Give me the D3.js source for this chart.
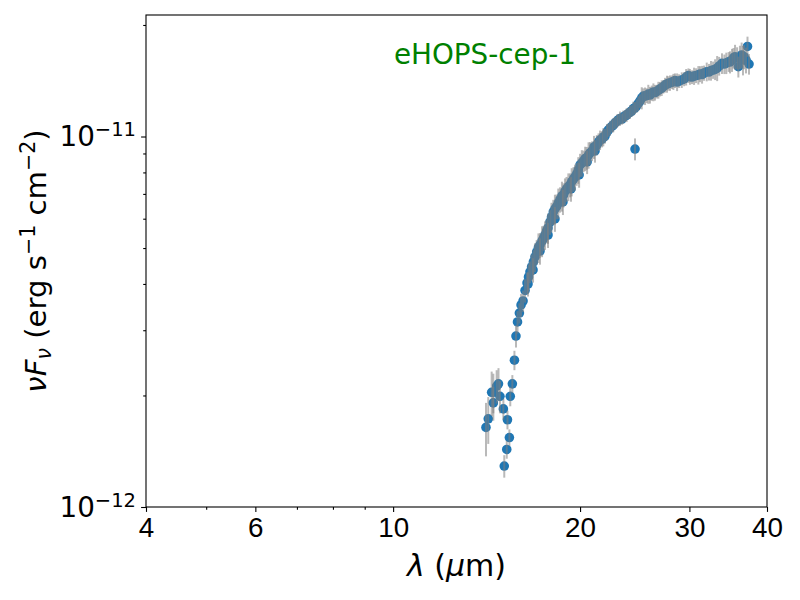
<!DOCTYPE html>
<html>
<head>
<meta charset="utf-8">
<script src="https://cdn.jsdelivr.net/npm/d3@7"></script>
<style>
  body { margin: 0; background: #fff; }
  svg { font-family: "DejaVu Sans", sans-serif; }
</style>
</head>
<body>
<div id="chart"></div>
<script>
// spectrum: wavelength (micron), nuFnu and its error (in units of 1e-12 erg s-1 cm-2)
var wavelength = [14.11, 14.23, 14.41, 14.50, 14.50, 14.68, 14.78, 14.86, 15.05, 15.10, 15.24, 15.28, 15.39, 15.44, 15.56, 15.68,
	15.77, 15.86, 15.97, 16.07, 16.19, 16.31, 16.43, 16.52, 16.61, 16.71,
	16.82, 16.92, 17.03, 17.14, 17.24, 17.37, 17.47, 17.56, 17.67, 17.76,
	17.89, 17.99, 18.11, 18.22, 18.34, 18.45, 18.57, 18.70, 18.81, 18.91,
	19.02, 19.15, 19.27, 19.39, 19.52, 19.63, 19.75, 19.87, 20.00, 20.13,
	20.26, 20.38, 20.50, 20.64, 20.75, 20.91, 21.06, 21.28, 21.42, 21.54,
	21.70, 21.80, 21.94, 22.10, 22.20, 22.35, 22.52, 22.62, 22.77, 22.94,
	23.05, 23.19, 23.36, 23.48, 23.63, 23.77, 23.92, 24.07, 24.22, 24.37,
	24.52, 24.52, 24.67, 24.82, 24.98, 25.14, 25.29, 25.45, 25.61, 25.76,
	25.92, 26.09, 26.25, 26.41, 26.58, 26.74, 26.90, 27.07, 27.24, 27.41,
	27.61, 27.75, 27.92, 28.13, 28.27, 28.44, 28.66, 28.87, 29.16, 29.42,
	29.64, 29.89, 30.06, 30.29, 30.52, 30.75, 31.01, 31.20, 31.44, 31.67,
	31.99, 32.26, 32.50, 32.75, 33.00, 33.25, 33.50, 33.85, 34.15, 34.40,
	34.70, 34.87, 35.13, 35.33, 35.53, 35.80, 35.97, 36.18, 36.41, 36.59,
	36.73, 37.00, 37.21, 37.42,
	16.49, 16.80, 17.24, 17.76, 18.22, 18.77, 19.34, 19.93, 20.53, 21.14]

var flux = [1.64, 1.73, 2.04, 1.91, 2.04, 2.12, 2.15, 1.99, 1.84, 1.29, 1.43, 1.72, 1.54, 1.99, 2.15, 2.49,
	2.894, 3.158, 3.338, 3.510, 3.598, 3.841, 4.024, 4.177, 4.309, 4.445,
	4.585, 4.730, 4.879, 5.017, 5.096, 5.224, 5.322, 5.422, 5.559, 5.663,
	5.878, 6.064, 6.256, 6.374, 6.474, 6.616, 6.762, 6.911, 6.954, 7.107,
	7.218, 7.322, 7.400, 7.551, 7.679, 7.775, 7.921, 8.124, 8.380, 8.485,
	8.591, 8.724, 8.751, 8.916, 9.027, 9.140, 9.369, 9.486, 9.665, 9.785,
	9.846, 9.969, 10.03, 10.28, 10.41, 10.54, 10.67, 10.74, 10.88, 11.01,
	11.08, 11.18, 11.15, 11.29, 11.36, 11.43, 11.54, 11.64, 11.72, 11.90,
	11.94, 9.252, 12.09, 12.28, 12.47, 12.71, 12.86, 12.86, 12.90, 13.02,
	12.94, 13.10, 13.18, 13.14, 13.23, 13.35, 13.43, 13.52, 13.63, 13.77,
	13.86, 13.92, 13.95, 14.03, 14.06, 14.16, 14.03, 14.12, 14.21, 14.30,
	14.47, 14.61, 14.50, 14.47, 14.56, 14.61, 14.65, 14.75, 14.70, 14.84,
	14.96, 14.93, 15.07, 15.12, 15.18, 15.30, 15.50, 15.76, 15.69, 15.79,
	15.92, 15.89, 16.09, 16.29, 16.42, 16.29, 15.43, 16.39, 16.60, 16.09,
	16.42, 16.09, 17.50, 15.69,
	3.999, 4.363, 4.909, 5.422, 5.990, 6.658, 7.218, 7.874, 8.537, 9.140]

var fluxErr = [0.27, 0.25, 0.28, 0.20, 0.25, 0.22, 0.22, 0.20, 0.12, 0.09, 0.08, 0.10, 0.08, 0.12, 0.12, 0.15,
	0.20, 0.22, 0.21, 0.25, 0.24, 0.28, 0.27, 0.34, 0.29, 0.36,
	0.35, 0.42, 0.38, 0.46, 0.39, 0.50, 0.42, 0.48, 0.41, 0.53,
	0.45, 0.56, 0.49, 0.59, 0.50, 0.62, 0.53, 0.64, 0.52, 0.60,
	0.56, 0.63, 0.55, 0.66, 0.59, 0.62, 0.56, 0.67, 0.60, 0.70,
	0.57, 0.66, 0.62, 0.73, 0.63, 0.56, 0.67, 0.60, 0.53, 0.59,
	0.50, 0.56, 0.46, 0.53, 0.43, 0.49, 0.42, 0.48, 0.41, 0.46,
	0.42, 0.50, 0.39, 0.46, 0.42, 0.49, 0.41, 0.48, 0.43, 0.52,
	0.45, 0.63, 0.50, 0.56, 0.53, 0.87, 0.63, 0.70, 0.59, 0.77,
	0.67, 0.62, 0.73, 0.64, 0.56, 0.70, 0.60, 0.66, 0.57, 0.63,
	0.73, 0.62, 0.67, 0.59, 0.70, 0.64, 0.77, 0.60, 0.69, 0.63,
	0.74, 0.66, 0.71, 0.62, 0.78, 0.67, 0.84, 0.73, 0.81, 0.70,
	0.87, 0.77, 0.92, 0.81, 0.98, 1.19, 0.90, 1.01, 0.95, 1.05,
	0.98, 1.09, 1.15, 1.04, 1.26, 1.12, 1.00, 1.19, 1.33, 1.47,
	1.23, 1.29, 1.10, 1.00,
	0.30, 0.33, 0.40, 0.42, 0.46, 0.52, 0.55, 0.60, 0.62, 0.64]

var fluxUnit = 1e-12
var xMajor = [4, 6, 10, 20, 30, 40]
var xMinor = [5, 7, 8, 9]
var yMajor = [1e-12, 1e-11]
var yMinor = [2e-12, 3e-12, 4e-12, 5e-12, 6e-12, 7e-12, 8e-12, 9e-12, 2e-11]
var yExponents = ["\u221212", "\u221211"]
var sourceName = "eHOPS-cep-1"

function createChart(width, height){
	var left = 146, right = 767, top = 15, bottom = 507
	var fs = 27.8

	var svg = d3.select("#chart")
		.append("svg")
		.attr("width", width)
		.attr("height", height)

	var x = d3.scaleLog().domain([4, 40]).range([left, right])
	var y = d3.scaleLog().domain([1e-12, 2.128e-11]).range([bottom, top])

	var data = wavelength.map(function(w, i){
		return {w: w, f: flux[i] * fluxUnit, e: fluxErr[i] * fluxUnit}
	})

	// axes: majors, then minors without labels
	svg.append("g")
		.attr("transform", "translate(0," + bottom + ")")
		.call(d3.axisBottom(x).tickValues(xMajor).tickFormat(d3.format("d")).tickSize(4.9).tickPadding(5.5))
		.call(function(g){ g.select(".domain").remove() })
		.selectAll("text").style("font-size", fs + "px").attr("fill", "#000")
	svg.append("g")
		.attr("transform", "translate(0," + bottom + ")")
		.call(d3.axisBottom(x).tickValues(xMinor).tickFormat("").tickSize(2.8))
		.call(function(g){ g.select(".domain").remove() })

	svg.append("g")
		.attr("transform", "translate(" + left + ",0)")
		.call(d3.axisLeft(y).tickValues(yMajor).tickFormat("").tickSize(4.9))
		.call(function(g){ g.select(".domain").remove() })
	svg.append("g")
		.attr("transform", "translate(" + left + ",0)")
		.call(d3.axisLeft(y).tickValues(yMinor).tickFormat("").tickSize(2.8))
		.call(function(g){ g.select(".domain").remove() })
	svg.selectAll(".tick line").attr("stroke", "#000").attr("stroke-width", 1.1)

	var yLabels = svg.append("g").selectAll("text")
		.data(yMajor)
		.enter().append("text")
		.attr("x", left - 10)
		.attr("y", function(d){ return y(d) + 9.5 })
		.attr("text-anchor", "end")
		.style("font-size", fs + "px")
	yLabels.append("tspan").text("10")
	yLabels.append("tspan")
		.attr("dy", -10)
		.style("font-size", "19.5px")
		.text(function(d, i){ return yExponents[i] })

	// points, then error bars over them
	svg.append("g").selectAll(".datapoint")
		.data(data)
		.enter().append("circle")
		.attr("class", "datapoint")
		.attr("cx", function(d){ return x(d.w) })
		.attr("cy", function(d){ return y(d.f) })
		.attr("r", 4.8)
		.attr("fill", "#1f77b4")

	svg.append("g").selectAll(".errbar")
		.data(data)
		.enter().append("line")
		.attr("class", "errbar")
		.attr("x1", function(d){ return x(d.w) })
		.attr("x2", function(d){ return x(d.w) })
		.attr("y1", function(d){ return y(d.f - d.e) })
		.attr("y2", function(d){ return y(d.f + d.e) })
		.attr("stroke", "#808080")
		.attr("stroke-opacity", 0.55)
		.attr("stroke-width", 2)

	svg.append("rect")
		.attr("x", left).attr("y", top)
		.attr("width", right - left).attr("height", bottom - top)
		.attr("fill", "none").attr("stroke", "#000").attr("stroke-width", 1.1)

	svg.append("text")
		.attr("x", 485).attr("y", 64)
		.attr("text-anchor", "middle")
		.attr("fill", "green")
		.style("font-size", fs + "px")
		.text(sourceName)

	svg.append("text")
		.attr("x", (left + right) / 2).attr("y", 576)
		.attr("text-anchor", "middle")
		.style("font-size", "30px")
		.call(function(t){
			t.append("tspan").style("font-style", "italic").text("\u03bb")
			t.append("tspan").text(" (")
			t.append("tspan").style("font-style", "italic").text("\u03bc")
			t.append("tspan").text("m)")
		})

	svg.append("text")
		.attr("transform", "translate(46," + (top + bottom) / 2 + ") rotate(-90)")
		.attr("text-anchor", "middle")
		.style("font-size", "29.2px")
		.call(function(t){
			t.append("tspan").style("font-style", "italic").text("\u03bdF")
			t.append("tspan").attr("dy", 5).style("font-style", "italic").style("font-size", "20.5px").text("\u03bd")
			t.append("tspan").attr("dy", -5).text(" (erg s")
			t.append("tspan").attr("dy", -11.5).style("font-size", "20.5px").text("\u22121")
			t.append("tspan").attr("dy", 11.5).text(" cm")
			t.append("tspan").attr("dy", -11.5).style("font-size", "20.5px").text("\u22122")
			t.append("tspan").attr("dy", 11.5).text(")")
		})
}

createChart(800, 600)
</script>
</body>
</html>
